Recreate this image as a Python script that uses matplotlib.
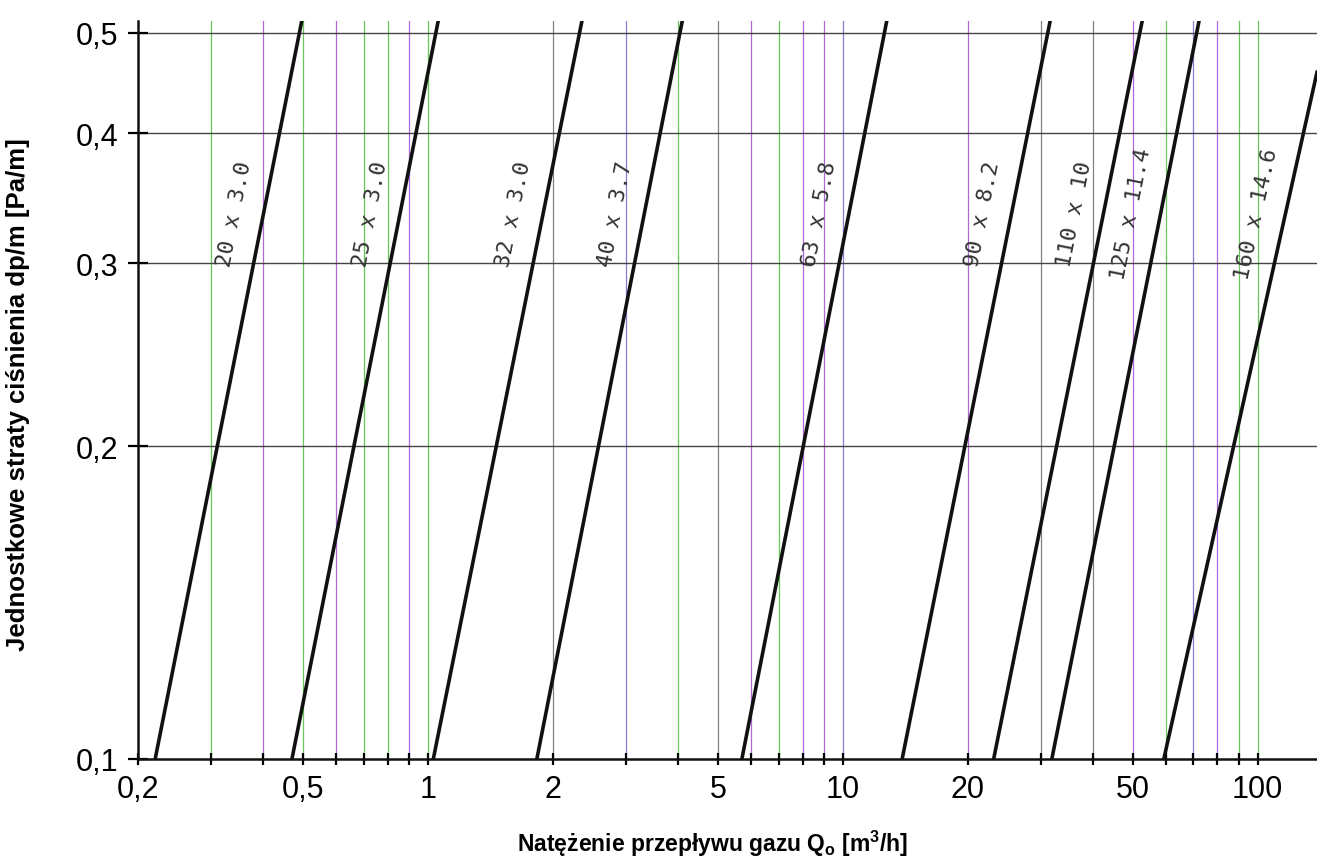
import numpy as np
import matplotlib.pyplot as plt

# rury PE: oznaczenie oraz Q [m3/h] odczytane przy dp/m = 0,1 i 0,5 Pa/m
pipe_labels = ['20 x 3.0', '25 x 3.0', '32 x 3.0', '40 x 3.7', '63 x 5.8',
               '90 x 8.2', '110 x 10', '125 x 11.4', '160 x 14.6']
q_at_low = [0.22, 0.47, 1.03, 1.83, 5.71, 13.9, 23.1, 31.9, 59.4]
q_at_high = [0.49, 1.045, 2.32, 4.05, 12.6, 31.2, 52.0, 71.3, 146.0]
dp_low = 0.1
dp_high = 0.5

x_ticks = [0.2, 0.3, 0.4, 0.5, 0.6, 0.7, 0.8, 0.9,
           1, 2, 3, 4, 5, 6, 7, 8, 9,
           10, 20, 30, 40, 50, 60, 70, 80, 90, 100]
x_tick_labels = {0.2: '0,2', 0.5: '0,5', 1: '1', 2: '2', 5: '5',
                 10: '10', 20: '20', 50: '50', 100: '100'}
y_ticks = [0.1, 0.2, 0.3, 0.4, 0.5]
y_tick_labels = ['0,1', '0,2', '0,3', '0,4', '0,5']

# kolory pionowych linii siatki (jak na skanie)
P, G, K, B = '#a14fd8', '#4cbf3c', '#6a6a6a', '#7266d0'
grid_colors = [G, P, G, P, G, G, P,
               G, K, B, G, K, P, G, P, P,
               B, P, K, K, P, G, B, P, G, G]

plt.rcParams['mathtext.fontset'] = 'custom'
plt.rcParams['mathtext.rm'] = 'Liberation Sans:bold'

fig = plt.figure(figsize=(13.17, 8.62), dpi=100)
ax = fig.add_axes([138 / 1317, 1 - 760 / 862, 1 - 138 / 1317, (760 - 22) / 862])
ax.set_xscale('log')
ax.set_yscale('log')
ax.set_xlim(0.2, 139)
ax.set_ylim(0.1, 0.513)

# siatka
for xv, c in zip(x_ticks[1:], grid_colors):
    ax.axvline(xv, color=c, lw=0.9, alpha=0.85, zorder=1)
for yv in y_ticks[1:]:
    ax.axhline(yv, color='#444444', lw=1.0, zorder=1)

# linie rur
for lab, q1, q2 in zip(pipe_labels, q_at_low, q_at_high):
    ax.axline((q1, dp_low), (q2, dp_high), color='#111111', lw=2.6, zorder=3)
    p1 = ax.transData.transform((q1, dp_low))
    p2 = ax.transData.transform((q2, dp_high))
    ang = np.degrees(np.arctan2(p2[1] - p1[1], p2[0] - p1[0]))
    dp_lab = 0.335
    t = (np.log(dp_lab) - np.log(dp_low)) / (np.log(dp_high) - np.log(dp_low))
    q_lab = np.exp(np.log(q1) + t * (np.log(q2) - np.log(q1)))
    ax.annotate(lab, (q_lab, dp_lab), xytext=(-21, 0), textcoords='offset points',
                rotation=ang, rotation_mode='anchor', ha='center', va='center',
                fontsize=16, family='DejaVu Sans Mono', color='#333333', zorder=4)

for s in ['top', 'right']:
    ax.spines[s].set_visible(False)
for s in ['left', 'bottom']:
    ax.spines[s].set_linewidth(1.8)
    ax.spines[s].set_color('#111111')

ax.minorticks_off()
ax.set_xticks(x_ticks)
ax.set_xticklabels([x_tick_labels.get(v, '') for v in x_ticks])
ax.set_yticks(y_ticks)
ax.set_yticklabels(y_tick_labels)
ax.tick_params(axis='x', direction='inout', length=9, width=1.6, pad=6,
               labelsize=22, labelfontfamily='Liberation Sans')
ax.tick_params(axis='y', direction='inout', length=14, width=1.6, pad=7,
               labelsize=22, labelfontfamily='Liberation Sans')

ax.set_xlabel('Natężenie przepływu gazu Q$_\\mathrm{o}$ [m$^\\mathrm{3}$/h]',
              fontsize=16.5, fontweight='bold', family='Liberation Sans')
ax.xaxis.set_label_coords(0.487, -0.093)
ax.set_ylabel('Jednostkowe straty ciśnienia dp/m [Pa/m]',
              fontsize=18.5, fontweight='bold', family='Liberation Sans')
ax.yaxis.set_label_coords(-0.092, 0.495)

plt.savefig('out.png', dpi=100)
